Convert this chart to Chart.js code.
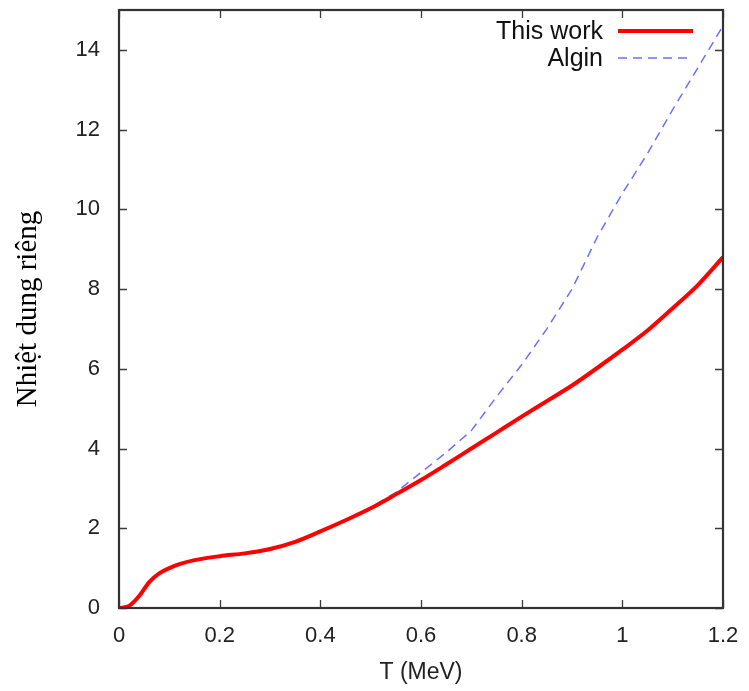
<!DOCTYPE html>
<html>
<head>
<meta charset="utf-8">
<script src="https://cdn.jsdelivr.net/npm/chart.js@4.4.1/dist/chart.umd.min.js"></script>
<style>
html,body{margin:0;padding:0;background:#fff;}
#wrap{width:749px;height:691px;position:relative;}
</style>
</head>
<body>
<div id="wrap"><canvas id="c" width="749" height="691"></canvas></div>
<script>
const temperatures = [0,0.02,0.04,0.06,0.08,0.1,0.12,0.15,0.2,0.25,0.3,0.35,0.4,0.45,0.5,0.55,0.6,0.65,0.7,0.75,0.8,0.85,0.9,0.95,1.0,1.05,1.1,1.15,1.2];
const thisWork = [0,0.05,0.3,0.65,0.87,1.0,1.1,1.2,1.3,1.37,1.48,1.66,1.92,2.2,2.5,2.85,3.21,3.6,4.0,4.4,4.8,5.19,5.58,6.02,6.48,6.96,7.52,8.1,8.8];
const algin = [0,0.05,0.3,0.65,0.87,1.0,1.1,1.2,1.3,1.36,1.44,1.66,1.92,2.2,2.52,2.9,3.4,3.9,4.45,5.3,6.1,7.0,8.0,9.3,10.4,11.4,12.5,13.55,14.6];
const xTicks = [0,0.2,0.4,0.6,0.8,1,1.2];
const yTicks = [0,2,4,6,8,10,12,14];
const seriesLabels = ['This work','Algin'];

const toPts = (xs, ys) => xs.map((x,i)=>({x:x,y:ys[i]}));

const framePlugin = {
  id:'frame',
  afterDatasetsDraw(chart){
    const {ctx, chartArea:a, scales} = chart;
    ctx.save();
    ctx.strokeStyle = '#3a3a3a';
    ctx.lineWidth = 1.3;
    const tl = 8;
    ctx.beginPath();
    scales.x.ticks.forEach(t=>{
      const px = Math.round(scales.x.getPixelForValue(t.value))+0.5;
      ctx.moveTo(px,a.bottom); ctx.lineTo(px,a.bottom-tl);
      ctx.moveTo(px,a.top); ctx.lineTo(px,a.top+tl);
    });
    scales.y.ticks.forEach(t=>{
      const py = Math.round(scales.y.getPixelForValue(t.value))+0.5;
      ctx.moveTo(a.left,py); ctx.lineTo(a.left+tl,py);
      ctx.moveTo(a.right,py); ctx.lineTo(a.right-tl,py);
    });
    ctx.stroke();
    ctx.lineWidth = 2.2;
    ctx.strokeStyle = '#333';
    ctx.strokeRect(a.left, a.top, a.right-a.left, a.bottom-a.top);
    // legend (text then sample line, gnuplot style)
    ctx.font = '25px "Liberation Sans", Arial, sans-serif';
    ctx.textAlign = 'right';
    ctx.textBaseline = 'middle';
    ctx.fillStyle = '#111';
    const rows = [31, 58];
    chart.data.datasets.forEach((ds,i)=>{
      const y = rows[i];
      ctx.fillText(ds.label, 603, y+1);
      ctx.beginPath();
      ctx.strokeStyle = ds.borderColor;
      ctx.lineWidth = ds.borderWidth;
      ctx.setLineDash(ds.borderDash || []);
      ctx.moveTo(618, y); ctx.lineTo(693, y);
      ctx.stroke();
      ctx.setLineDash([]);
    });
    ctx.restore();
  }
};

const tickFont = {family:'"Liberation Sans", Arial, sans-serif', size:22};

new Chart(document.getElementById('c'), {
  type:'line',
  data:{
    datasets:[
      {label:seriesLabels[0], data:toPts(temperatures,thisWork), borderColor:'#ff0000', borderWidth:4, pointRadius:0, tension:0.4, cubicInterpolationMode:'monotone', fill:false},
      {label:seriesLabels[1], data:toPts(temperatures,algin), borderColor:'#6f6fff', borderWidth:1.5, borderDash:[9,6], pointRadius:0, tension:0, fill:false}
    ]
  },
  options:{
    responsive:false,
    animation:false,
    layout:{padding:{top:10,right:26,left:0,bottom:0}},
    plugins:{legend:{display:false}, tooltip:{enabled:false}},
    scales:{
      x:{
        type:'linear', min:0, max:1.2,
        afterBuildTicks(s){ s.ticks = xTicks.map(v=>({value:v})); },
        afterFit(s){ s.height = 83; s.paddingLeft = 0; s.paddingRight = 0; },
        grid:{display:false, drawTicks:false},
        border:{display:false},
        ticks:{padding:15, color:'#222', font:tickFont, maxRotation:0,
          callback:v=>String(Number(v.toFixed(1)))},
        title:{display:true, text:'T (MeV)', color:'#222', font:{family:'"Liberation Sans", Arial, sans-serif', size:23}, padding:{top:0,bottom:5}}
      },
      y:{
        type:'linear', min:0, max:15,
        afterBuildTicks(s){ s.ticks = yTicks.map(v=>({value:v})); },
        afterFit(s){ s.width = 119; s.paddingTop = 0; s.paddingBottom = 0; },
        grid:{display:false, drawTicks:false},
        border:{display:false},
        ticks:{padding:19, color:'#222', font:tickFont,
          callback:v=>String(v)},
        title:{display:true, text:'Nhiệt dung riêng', color:'#000', font:{family:'"Liberation Serif", "Times New Roman", serif', size:29}, padding:{top:11,bottom:0}}
      }
    }
  },
  plugins:[framePlugin]
});
</script>
</body>
</html>
